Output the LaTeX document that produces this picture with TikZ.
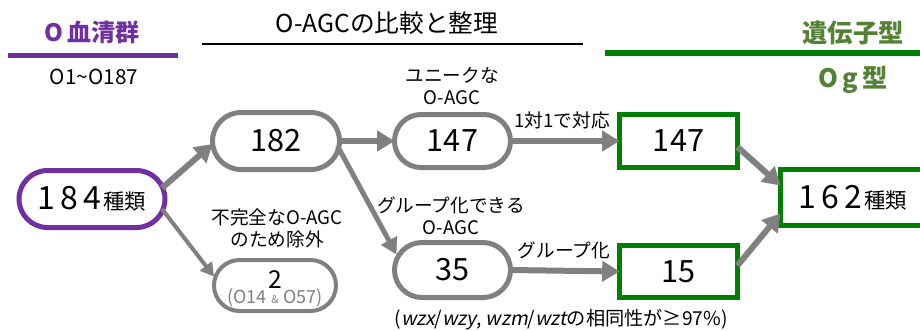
\documentclass[tikz,border=0pt]{standalone}
\usepackage{fontspec}
\setmainfont{Noto Sans CJK JP}
\newfontfamily\slfont{Noto Sans CJK JP}[FakeSlant=0.2]
\newfontfamily\numfont{Noto Sans CJK JP}[LetterSpace=16]
\usetikzlibrary{arrows.meta,calc}
\definecolor{pur}{HTML}{7030A0}
\definecolor{grn}{HTML}{008000}
\definecolor{dgrn}{RGB}{84,130,53}
\definecolor{gry}{HTML}{808080}
\newcommand{\fs}[1]{\fontsize{#1}{#1}\selectfont}
\begin{document}
\begin{tikzpicture}[x=0.75pt,y=-0.75pt,
  every node/.style={inner sep=0pt, outer sep=0pt},
  pill/.style 2 args={draw=gry, line width=3.75pt, fill=white, minimum width=#1*0.75pt, minimum height=#2*0.75pt, rounded corners=#2*0.375pt, align=center},
  gbox/.style 2 args={draw=grn, line width=4pt, fill=white, minimum width=#1*0.75pt, minimum height=#2*0.75pt, align=center},
  num/.style={font=\fontsize{23}{26}\selectfont},
  lbl/.style={font=\fontsize{14}{16.5}\selectfont, align=center},
  arr/.style={draw=gry, line width=4.5pt, -{Triangle[width=15pt,length=13pt]}},
  arrs/.style={draw=gry, line width=3pt, -{Triangle[width=11pt,length=10pt]}},
  arrm/.style={draw=gry, line width=3.75pt, -{Triangle[width=13pt,length=12pt]}}]
\useasboundingbox (0,0) rectangle (920,330);
% headers
\node[font=\fontsize{18}{20}\selectfont\bfseries, text=pur] (hO) at (92,32) {O\,血清群};
\coordinate (pl1) at (8,55); \coordinate (pl2) at (178,55);
\draw[pur, line width=3.75pt] (pl1) -- (pl2);
\node[font=\fontsize{15.5}{18}\selectfont] (hrange) at (94,77) {O1\textasciitilde O187};
\node[font=\fontsize{18.5}{20}\selectfont] (hagc) at (387,23) {O-AGCの比較と整理};
\coordinate (bl1) at (202,44); \coordinate (bl2) at (583,44);
\draw[black, line width=2pt] (bl1) -- (bl2);
\coordinate (gl1) at (605,53); \coordinate (gl2) at (920,53);
\draw[grn, line width=4.5pt] (gl1) -- (gl2);
\node[font=\fontsize{19}{20}\selectfont\bfseries, text=dgrn] (hgene) at (853,33) {遺伝子型};
\node[font=\fontsize{19}{20}\selectfont\bfseries, text=dgrn] (hog) at (853,80) {O\,g\,型};
% nodes
\node[pill={146}{57}, draw=pur, line width=3.75pt] (n184) at (92,199) {{\numfont\fs{24}184}\,{\fs{16}種類}};
\node[pill={127}{57}, num] (n182) at (276,141) {182};
\node[pill={122}{51}, line width=3pt] (n2) at (275,285.5) {};
\node[font=\fs{18.5}] (n2a) at (275,279.5) {2};
\node[font=\fs{13.5}, text=gry] (n2b) at (275,297.5) {(O14\hspace{0.25em}{\footnotesize\&}\hspace{0.25em}O57)};
\node[pill={116}{53}, num] (n147) at (452.5,141) {147};
\node[pill={116}{55}, num] (n35) at (452.5,270) {35};
\node[gbox={118}{53}, num] (g147) at (678.5,141) {147};
\node[gbox={118}{52}, num] (g15) at (678.5,271.5) {15};
\node[gbox={145}{56}] (g162) at (853,197.5) {{\numfont\fs{24}162}\,{\fs{16}種類}};
% labels
\node[lbl] (luniq) at (452,86) {ユニークな\\O-AGC};
\node[lbl] (l11) at (562,120) {1対1で対応};
\node[lbl] (lgrp) at (564,250) {グループ化};
\node[lbl] (lgrpable) at (451,216) {グループ化できる\\O-AGC};
\node[lbl] (lexcl) at (277,228) {不完全なO-AGC\\のため除外};
\node[lbl, font=\fontsize{14.4}{16.5}\selectfont] (lnote) at (561,320) {({\slfont wzx}/{\slfont wzy}, {\slfont wzm}/{\slfont wzt}の相同性が≥97\%)};
% arrows
\draw[arr] ($(n184.east)+(-3,-11)$) -- ($(n182.west)+(0,3)$);
\draw[arrs] ($(n184.east)+(-3,10)$) -- ($(n2.west)+(0,-9)$);
\draw[arr] (n182.east) -- (n147.west);
\draw[arrm] ($(n182.east)+(-2,5)$) -- ($(n35.north west)+(2,12)$);
\draw[arr] (n147.east) -- (g147.west);
\draw[arr] (n35.east) -- (g15.west);
\draw[arr] ($(g147.east)+(0,6)$) -- ($(g162.west)+(0,-12)$);
\draw[arr] ($(g15.east)+(0,-6)$) -- ($(g162.west)+(0,16)$);
\end{tikzpicture}
\end{document}
